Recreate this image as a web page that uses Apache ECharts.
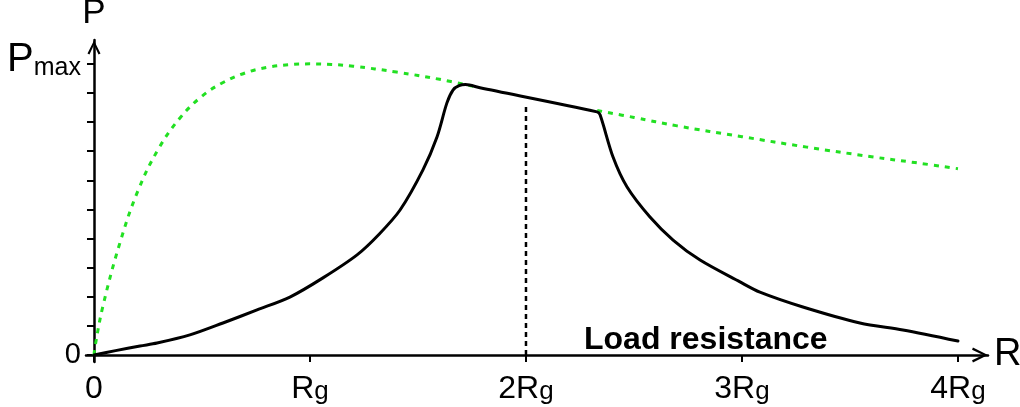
<!DOCTYPE html>
<html>
<head>
<meta charset="utf-8">
<script src="https://cdn.jsdelivr.net/npm/echarts@6/dist/echarts.min.js"></script>
<style>
html,body{margin:0;padding:0;background:#fff;}
#chart{width:1020px;height:407px;}
</style>
</head>
<body>
<div id="chart"></div>
<script>
// ---- data (x in units of Rg, y in units of Pmax) ----
const xTickValues = [0, 1, 2, 3, 4];
const xTickMain = ['0', 'R', '2R', '3R', '4R'];
const xTickSub = ['', 'g', 'g', 'g', 'g'];
const yTickValues = [0, 0.1, 0.2, 0.3, 0.4, 0.5, 0.6, 0.7, 0.8, 0.9, 1.0];
const yLabelValues = [0, 1];

// green dotted curve (maximum power envelope), left part and right part
const greenLeftR = [0, 0.005, 0.042, 0.12, 0.204, 0.3, 0.4, 0.5, 0.6, 0.7, 0.8, 0.9, 1.0, 1.1, 1.2, 1.4, 1.6, 1.76];
const greenLeftP = [0, 0.03, 0.17, 0.385, 0.565, 0.71, 0.816, 0.889, 0.937, 0.969, 0.988, 0.997, 1.0, 0.998, 0.992, 0.972, 0.947, 0.922];
const greenRightR = [2.33, 2.5, 2.7, 3.0, 3.3, 3.6, 3.8, 4.0];
const greenRightP = [0.84, 0.816, 0.787, 0.75, 0.714, 0.681, 0.661, 0.64];

// black solid curve (actual power)
const blackR = [0, 0.1, 0.213, 0.292, 0.444, 0.597, 0.755, 0.907, 1.06, 1.218, 1.32, 1.417, 1.523, 1.588, 1.634, 1.662, 1.69, 1.72, 1.787, 2.329, 2.343, 2.403, 2.468, 2.574, 2.681, 2.806, 2.991, 3.083, 3.282, 3.546, 3.745, 4.0];
const blackP = [0, 0.015, 0.031, 0.041, 0.069, 0.110, 0.155, 0.199, 0.265, 0.344, 0.415, 0.498, 0.636, 0.749, 0.866, 0.910, 0.925, 0.929, 0.918, 0.835, 0.825, 0.680, 0.577, 0.474, 0.395, 0.326, 0.251, 0.216, 0.165, 0.110, 0.086, 0.048];

// vertical dashed marker at 2Rg
const markerR = [2, 2];
const markerP = [0, 0.86];

const zip = (a, b) => a.map((v, i) => [v, b[i]]);

const FONT = '"Liberation Sans", Arial, sans-serif';
const arrowPath = 'path://M0,10 L5,0 L10,10 L8.5,10.6 L5,3.2 L1.5,10.6 Z';

const chart = echarts.init(document.getElementById('chart'), null, {renderer: 'canvas'});
chart.setOption({
  animation: false,
  backgroundColor: '#ffffff',
  title: {
    text: 'Load resistance',
    left: 584,
    top: 324,
    padding: 0,
    textStyle: {fontFamily: FONT, fontSize: 32, fontWeight: 'bold', color: '#000'}
  },
  grid: {left: 86, right: 32, top: 40, bottom: 45, containLabel: false, outerBoundsMode: 'none'},
  xAxis: {
    type: 'value',
    min: -0.037,
    max: 4.139,
    name: 'R',
    nameLocation: 'end',
    nameGap: 6,
    nameTextStyle: {fontFamily: FONT, fontSize: 38, color: '#000', verticalAlign: 'middle'},
    axisLine: {
      show: true, onZero: true,
      symbol: ['none', arrowPath], symbolSize: [15, 16], symbolOffset: [0, -8],
      lineStyle: {color: '#000', width: 2.5}
    },
    axisTick: {show: true, customValues: xTickValues, length: 7, inside: false, lineStyle: {color: '#000', width: 2}},
    axisLabel: {
      show: true,
      customValues: xTickValues,
      margin: 11,
      formatter: function (v) {
        const i = xTickValues.indexOf(Math.round(v));
        if (i < 0) return '';
        return xTickSub[i] ? '{m|' + xTickMain[i] + '}{s|' + xTickSub[i] + '}' : '{m|' + xTickMain[i] + '}';
      },
      rich: {
        m: {fontFamily: FONT, fontSize: 32, lineHeight: 32, color: '#000', verticalAlign: 'bottom'},
        s: {fontFamily: FONT, fontSize: 26, lineHeight: 22, color: '#000', verticalAlign: 'bottom'}
      }
    },
    splitLine: {show: false}
  },
  yAxis: {
    type: 'value',
    min: -0.024,
    max: 1.082,
    name: 'P',
    nameLocation: 'end',
    nameGap: -2,
    nameTextStyle: {fontFamily: FONT, fontSize: 35, color: '#000', align: 'center', verticalAlign: 'bottom'},
    axisLine: {
      show: true, onZero: true,
      symbol: ['none', arrowPath], symbolSize: [13, 15], symbolOffset: [0, -7.5],
      lineStyle: {color: '#000', width: 2.5}
    },
    axisTick: {show: true, customValues: yTickValues, length: 7, inside: false, lineStyle: {color: '#000', width: 2}},
    axisLabel: {
      show: true,
      customValues: yLabelValues,
      margin: 5,
      formatter: function (v) {
        if (Math.abs(v) < 1e-6) return '{z|0}';
        return '{p|P}{s|max}';
      },
      rich: {
        z: {fontFamily: FONT, fontSize: 29, lineHeight: 29, color: '#000'},
        p: {fontFamily: FONT, fontSize: 40, lineHeight: 33, padding: [10, 0, 0, 0], color: '#000', verticalAlign: 'bottom'},
        s: {fontFamily: FONT, fontSize: 25, lineHeight: 23, color: '#000', verticalAlign: 'bottom'}
      }
    },
    splitLine: {show: false}
  },
  series: [
    {
      type: 'line', name: 'envelope-left', data: zip(greenLeftR, greenLeftP),
      smooth: 0.4, showSymbol: false, symbol: 'none', z: 2,
      lineStyle: {color: '#22e022', width: 3, type: [5, 6]}
    },
    {
      type: 'line', name: 'envelope-right', data: zip(greenRightR, greenRightP),
      smooth: 0.4, showSymbol: false, symbol: 'none', z: 2,
      lineStyle: {color: '#22e022', width: 3, type: [5, 6]}
    },
    {
      type: 'line', name: 'marker', data: zip(markerR, markerP),
      showSymbol: false, symbol: 'none', z: 3,
      lineStyle: {color: '#000', width: 2.5, type: [5, 4]}
    },
    {
      type: 'line', name: 'power', data: zip(blackR, blackP),
      smooth: 0.3, showSymbol: false, symbol: 'none', z: 4,
      lineStyle: {color: '#000', width: 3, cap: 'round', join: 'round'}
    }
  ]
});
</script>
</body>
</html>
